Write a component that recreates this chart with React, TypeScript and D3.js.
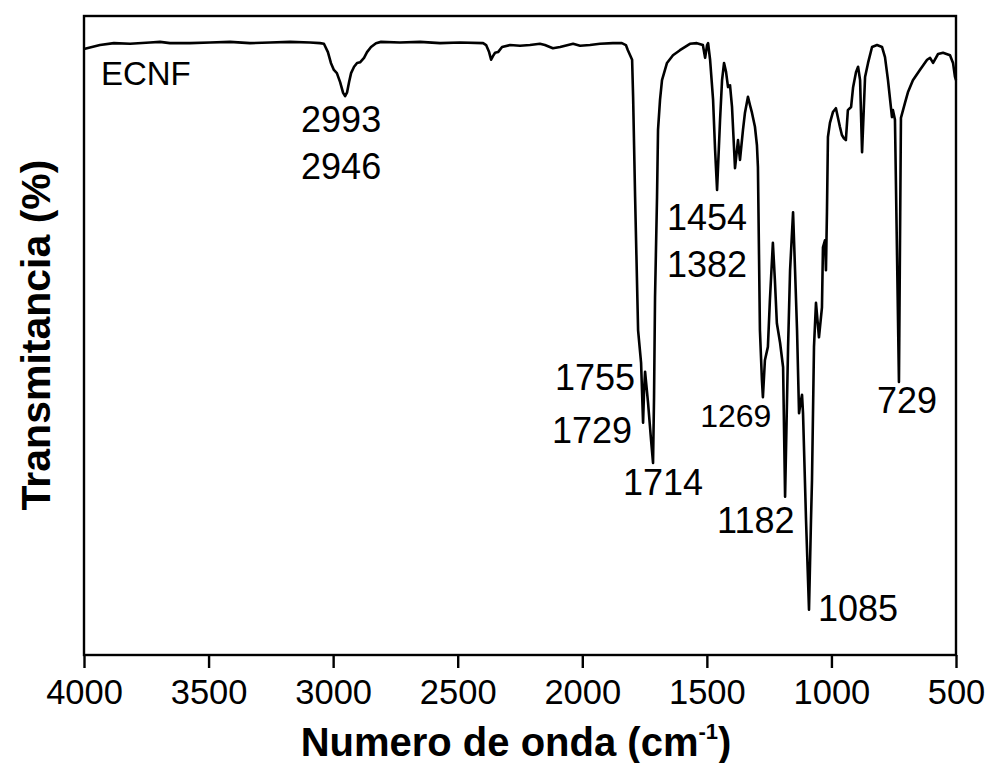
import React, { useEffect, useRef } from 'react';
import * as d3 from 'd3';

// FTIR spectrum of ECNF
const wavenumber = [
  4000, 3936, 3880, 3815, 3735, 3695, 3655, 3575, 3494, 3414, 3334, 3253, 3173, 3093, 3053, 3037,
  3021, 3009, 2997, 2985, 2972, 2960, 2952, 2944, 2936, 2928, 2916, 2904, 2892, 2876, 2864, 2848,
  2828, 2808, 2732, 2651, 2571, 2491, 2398, 2386, 2374, 2366, 2358, 2350, 2338, 2322, 2290, 2250,
  2210, 2170, 2150, 2118, 2089, 2037, 2009, 1969, 1929, 1877, 1841, 1825, 1817, 1808, 1800, 1796,
  1788, 1776, 1764, 1756, 1752, 1748, 1736, 1724, 1716, 1712, 1708, 1700, 1696, 1688, 1680, 1660,
  1636, 1608, 1568, 1540, 1516, 1507, 1499, 1495, 1487, 1475, 1467, 1459, 1447, 1439, 1431, 1423,
  1415, 1407, 1399, 1387, 1375, 1367, 1355, 1347, 1335, 1327, 1319, 1307, 1299, 1295, 1287, 1279,
  1275, 1267, 1255, 1247, 1235, 1227, 1219, 1206, 1194, 1186, 1174, 1166, 1154, 1146, 1138, 1130,
  1122, 1118, 1114, 1102, 1090, 1082, 1078, 1070, 1062, 1050, 1038, 1034, 1026, 1022, 1018, 1014,
  1006, 994, 982, 966, 958, 950, 942, 934, 921, 913, 901, 893, 885, 877, 865, 853,
  837, 817, 797, 785, 773, 757, 753, 745, 737, 729, 725, 721, 705, 693, 673, 645,
  616, 604, 592, 572, 552, 524, 512, 504, 500,
];

const transmittance = [
  95.0, 95.6, 95.9, 95.8, 96.0, 96.1, 95.9, 95.9, 96.0, 96.1, 95.9, 96.0, 96.1, 96.0, 95.9, 95.8,
  94.5, 92.8, 91.7, 91.2, 89.8, 88.1, 87.6, 88.2, 89.8, 91.2, 92.2, 92.8, 92.9, 93.6, 94.5, 95.3,
  95.9, 96.1, 96.0, 96.1, 95.9, 96.0, 95.9, 95.6, 94.5, 93.3, 93.9, 94.4, 94.5, 95.3, 95.6, 95.5,
  95.6, 95.8, 95.6, 95.1, 95.3, 95.8, 95.5, 95.6, 95.8, 95.9, 95.9, 95.6, 94.8, 94.0, 93.3, 87.5,
  71.8, 50.9, 45.8, 36.4, 41.5, 44.4, 39.5, 33.7, 30.1, 40.4, 56.1, 71.8, 82.3, 87.0, 90.1, 92.8,
  94.0, 94.8, 95.8, 95.9, 95.6, 93.6, 95.6, 95.9, 93.3, 87.0, 79.2, 72.9, 83.9, 90.1, 92.8, 91.4,
  89.0, 89.3, 85.9, 76.3, 80.7, 77.6, 82.3, 85.0, 87.5, 86.2, 85.0, 82.8, 79.9, 76.5, 50.9, 43.1,
  40.4, 46.2, 48.3, 55.6, 64.6, 58.8, 52.0, 48.9, 45.1, 24.8, 48.3, 60.3, 69.4, 60.3, 50.9, 37.9,
  40.0, 40.8, 37.9, 21.2, 7.1, 21.2, 27.4, 48.3, 55.2, 49.8, 54.5, 63.9, 65.0, 60.3, 69.3, 81.2,
  83.4, 85.1, 85.7, 82.8, 81.5, 81.0, 80.7, 85.4, 85.9, 89.0, 91.4, 92.2, 90.1, 78.8, 90.6, 92.8,
  95.3, 95.6, 95.3, 93.7, 90.1, 84.3, 85.4, 83.9, 63.5, 42.8, 63.5, 84.2, 86.5, 88.2, 90.1, 91.7,
  93.3, 93.6, 92.8, 94.2, 94.4, 94.0, 92.8, 90.6, 90.1,
];

const tickValues = [4000, 3500, 3000, 2500, 2000, 1500, 1000, 500];

// peak annotations: text, position in (wavenumber, transmittance), anchor, size
const peakLabels = ['2993', '2946', '1454', '1382', '1755', '1729', '1714', '1269', '1182', '1085', '729'];
const peakLabelWn = [2968, 2968, 1499, 1499, 1788, 1800, 1837, 1527, 1459, 1054, 817];
const peakLabelT = [82.0, 74.6, 66.6, 59.2, 41.5, 33.2, 25.1, 35.7, 19.1, 5.3, 37.9];
const peakLabelAnchor = ['middle', 'middle', 'middle', 'middle', 'end', 'end', 'start', 'start', 'start', 'start', 'start'];
const peakLabelSize = [36, 36, 36, 36, 36, 36, 36, 32, 36, 36, 36];

const sampleName = 'ECNF';

function FtirChart() {
  const ref = useRef<SVGSVGElement>(null);

  useEffect(() => {
    const font = "'Liberation Sans', Arial, sans-serif";
    const margin = { top: 17, right: 31, bottom: 108, left: 84 };
    const width = 987 - margin.left - margin.right;
    const height = 763 - margin.top - margin.bottom;

    const svg = d3.select(ref.current);
    svg.selectAll('*').remove();

    const g = svg.append('g')
      .attr('transform', `translate(${margin.left},${margin.top})`);

    const x = d3.scaleLinear().domain([4000, 500]).range([0, width]);
    const y = d3.scaleLinear().domain([0, 100]).range([height, 0]);

    // x axis (ticks only, frame is drawn as a rect)
    const xAxis = g.append('g')
      .attr('transform', `translate(0,${height})`)
      .call(d3.axisBottom(x).tickValues(tickValues).tickSize(13).tickSizeOuter(0).tickFormat(d3.format('d')));
    xAxis.select('.domain').remove();
    xAxis.selectAll('line').attr('stroke', '#000').attr('stroke-width', 2.4);
    xAxis.selectAll('text')
      .attr('y', 49)
      .attr('dy', null)
      .attr('fill', '#000')
      .style('font-family', font)
      .style('font-size', '34.5px');

    // frame
    g.append('rect')
      .attr('x', 0)
      .attr('y', -1)
      .attr('width', width)
      .attr('height', height + 1)
      .attr('fill', 'none')
      .attr('stroke', '#000')
      .attr('stroke-width', 2.4);

    // spectrum
    const line = d3.line<number>()
      .x((d, i) => x(wavenumber[i]))
      .y(d => y(d));

    g.append('path')
      .datum(transmittance)
      .attr('d', line)
      .attr('fill', 'none')
      .attr('stroke', '#000')
      .attr('stroke-width', 2.6)
      .attr('stroke-linejoin', 'round');

    // sample name
    g.append('text')
      .attr('x', x(3932))
      .attr('y', y(89.3))
      .style('font-family', font)
      .style('font-size', '33px')
      .text(sampleName);

    // peak labels
    peakLabels.forEach((label, i) => {
      g.append('text')
        .attr('x', x(peakLabelWn[i]))
        .attr('y', y(peakLabelT[i]))
        .attr('text-anchor', peakLabelAnchor[i])
        .style('font-family', font)
        .style('font-size', peakLabelSize[i] + 'px')
        .text(label);
    });

    // x title
    const xt = svg.append('text')
      .attr('x', 516)
      .attr('y', 756)
      .attr('text-anchor', 'middle')
      .style('font-family', font)
      .style('font-size', '40px')
      .style('font-weight', 'bold');
    xt.append('tspan').text('Numero de onda (cm');
    xt.append('tspan').attr('dy', -17).style('font-size', '22px').text('-1');
    xt.append('tspan').attr('dy', 17).text(')');

    // y title
    svg.append('text')
      .attr('transform', 'translate(50,335) rotate(-90)')
      .attr('text-anchor', 'middle')
      .style('font-family', font)
      .style('font-size', '41px')
      .style('font-weight', 'bold')
      .text('Transmitancia (%)');
  }, []);

  return <svg ref={ref} width={987} height={763} style={{ position: 'absolute', left: 0, top: 0, background: '#fff' }} />;
}

export default function App() {
  return <FtirChart />;
}
